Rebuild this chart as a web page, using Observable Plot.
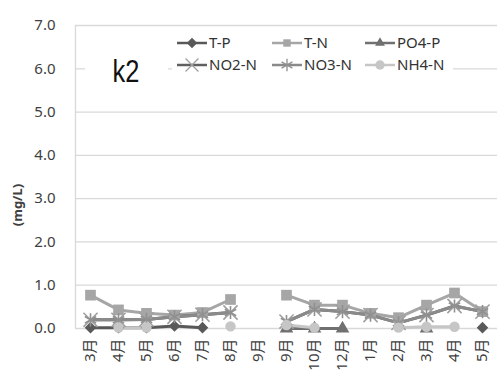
<!DOCTYPE html>
<html><head><meta charset="utf-8">
<script src="https://cdn.jsdelivr.net/npm/d3@7"></script>
<script src="https://cdn.jsdelivr.net/npm/@observablehq/plot@0.6"></script>
<style>body{margin:0;background:#fff}#c{width:502px;height:372px;overflow:hidden}</style>
</head><body><div id="c"></div>
<script>
const months = ["3月","4月","5月","6月","7月","8月","9月","9月","10月","12月","1月","2月","3月","4月","5月"];
const yTicks = [0,1,2,3,4,5,6,7];
const seriesNames = ["T-P","T-N","PO4-P","NO2-N","NO3-N","NH4-N"];
const N = NaN;
const TP   = [0.02,0.02,0.02,0.06,0.02,N,N,N,N,N,N,N,N,N,0.02];
const TN   = [0.77,0.43,0.35,0.31,0.37,0.67,N,0.77,0.54,0.54,0.35,0.25,0.54,0.82,0.39];
const PO4P = [N,N,N,N,N,N,N,0.0,0.0,0.0,N,N,0.0,N,N];
const NO2N = [0.2,0.2,0.21,0.27,0.32,0.37,N,0.16,0.44,0.39,0.31,0.13,0.31,0.52,0.39];
const NO3N = [0.2,0.2,0.21,0.27,0.32,0.37,N,0.16,0.44,0.39,0.31,0.13,0.31,0.52,0.39];
const NH4N = [N,0.02,0.02,N,N,0.05,N,0.08,0.02,N,N,0.02,0.04,0.04,N];
const values = [TP,TN,PO4P,NO2N,NO3N,NH4N];
const colors = ["#595959","#a6a6a6","#707070","#606060","#8a8a8a","#c6c6c6"];
const markerColors = ["#595959","#a6a6a6","#707070","#a0a0a0","#909090","#c6c6c6"];
const symbols = ["diamond2","square2","triangle2","times","asterisk","circle"];
const d3symbols = [d3.symbolDiamond2,d3.symbolSquare2,d3.symbolTriangle2,d3.symbolTimes,d3.symbolAsterisk,d3.symbolCircle];
const radii = [5.2,6.8,6.5,6.5,6.2,5.2];

const rows = [];
values.forEach((arr,s)=>arr.forEach((v,i)=>rows.push({s, i, v})));

const marks = [
  Plot.gridY(yTicks,{stroke:"#d9d9d9",strokeOpacity:1,strokeWidth:1.3}),
  Plot.axisY(yTicks,{tickSize:0,tickPadding:20,tickFormat:d=>d.toFixed(1),fontSize:15,label:null}),
  Plot.axisX(d3.range(15),{tickSize:0,tickPadding:10,tickRotate:-90,tickFormat:i=>months[i],fontSize:15,label:null})
];
seriesNames.forEach((name,s)=>{
  const data = rows.filter(r=>r.s===s);
  marks.push(Plot.line(data,{x:"i",y:"v",stroke:colors[s],strokeWidth:3}));
});
seriesNames.forEach((name,s)=>{
  const data = rows.filter(r=>r.s===s && !isNaN(r.v));
  const strokeSym = symbols[s]==="times"||symbols[s]==="asterisk";
  marks.push(Plot.dot(data,{x:"i",y:"v",symbol:()=>symbols[s],r:radii[s],
    fill: strokeSym? "none": markerColors[s],
    stroke: strokeSym? markerColors[s]: "none",
    strokeWidth: strokeSym?1.6:0}));
});

const chart = Plot.plot({
  width:502,height:372,
  marginLeft:75,marginRight:5,marginTop:25,marginBottom:44,
  x:{type:"band",domain:d3.range(15),padding:0,axis:null},
  y:{domain:[0,7],axis:null},
  symbol:{type:"identity"},
  style:{fontFamily:"'Noto Sans','Noto Sans CJK JP',sans-serif",color:"#404040",background:"#fff"},
  marks
});
document.getElementById("c").appendChild(chart);

const svg = d3.select(chart);
svg.append("line").attr("x1",75.5).attr("x2",75.5).attr("y1",25).attr("y2",328).attr("stroke","#d9d9d9").attr("stroke-width",1.3);
svg.append("text").attr("transform","translate(22,205) rotate(-90)").attr("text-anchor","middle")
  .attr("font-size",13).attr("font-weight","bold").attr("fill","#404040")
  .attr("font-family","'Noto Sans',sans-serif").text("(mg/L)");
svg.append("rect").attr("x",85).attr("y",52).attr("width",83).attr("height",34).attr("fill","#fff");
svg.append("text").attr("transform","translate(126,82) scale(0.82,1)").attr("text-anchor","middle").attr("font-size",31)
  .attr("font-family","'Liberation Sans',sans-serif").attr("fill","#111").text("k2");
svg.append("rect").attr("x",172).attr("y",30).attr("width",281).attr("height",46).attr("fill","#fff");
const colX = [177,272,365];
const rowY = [43,65];
seriesNames.forEach((name,s)=>{
  const cx = colX[s%3], cy = rowY[Math.floor(s/3)];
  const g = svg.append("g");
  g.append("line").attr("x1",cx).attr("x2",cx+30).attr("y1",cy).attr("y2",cy).attr("stroke",colors[s]).attr("stroke-width",2.5);
  const strokeSym = s===3||s===4;
  g.append("path").attr("d",d3.symbol(d3symbols[s],strokeSym?110:70)())
    .attr("transform",`translate(${cx+15},${cy})`)
    .attr("fill",strokeSym?"none":markerColors[s]).attr("stroke",strokeSym?markerColors[s]:"none").attr("stroke-width",1.3);
  g.append("text").attr("x",cx+32).attr("y",cy+5).attr("text-anchor","start").attr("font-size",15).attr("fill","#333")
    .attr("font-family","'Noto Sans',sans-serif").text(name);
});
</script></body></html>
